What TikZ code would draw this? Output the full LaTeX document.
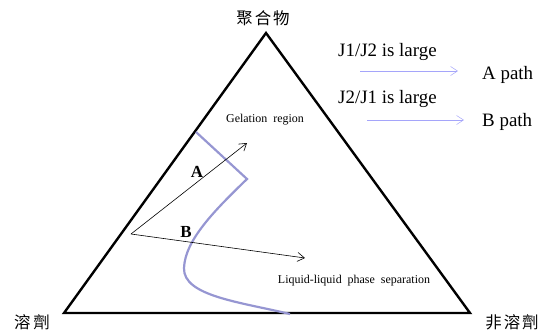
\documentclass[tikz,border=0pt]{standalone}
\usepackage{fontspec}
\setmainfont{Liberation Serif}
\newfontfamily\cjk{Noto Sans CJK TC}
\usetikzlibrary{arrows.meta}
\definecolor{curveblue}{RGB}{150,150,210}
\definecolor{arrowblue}{RGB}{165,165,250}
\tikzset{
  tri/.style={line width=2.4pt, line join=miter},
  blackarrow/.style={line width=0.6pt, -{Straight Barb[length=7pt,width=9pt]}},
  bluearrow/.style={draw=arrowblue, line width=0.5pt, -{Straight Barb[length=7pt,width=9pt]}},
  bigtext/.style={font=\fontsize{19}{22}\selectfont, inner sep=0pt},
  smalltext/.style={font=\fontsize{12}{14}\selectfont, inner sep=0pt},
  cjktext/.style={font=\cjk\fontsize{16.5}{18}\selectfont, inner sep=0pt},
  lettertext/.style={font=\bfseries\fontsize{17}{18}\selectfont, inner sep=0pt},
}
\begin{document}
\begin{tikzpicture}[x=1bp,y=-1bp]
\useasboundingbox (0,0) rectangle (544,332);
% triangle
\coordinate (top) at (266,33);
\coordinate (bl) at (64,313);
\coordinate (br) at (470,313);
\draw[tri] (top) -- (bl) -- (br) -- cycle;
% corner labels
\node[cjktext] (poly) at (263,18) {聚\hspace{2pt}合\hspace{2pt}物};
\node[cjktext] (solv) at (32,322) {溶\hspace{3pt}劑};
\node[cjktext] (nonsolv) at (512,322) {非\hspace{2pt}溶\hspace{2pt}劑};
% blue binodal curve
\coordinate (c0) at (196,132);
\coordinate (c1) at (247,179);
\coordinate (c2) at (184,268);
\coordinate (c3) at (290,314);
\draw[curveblue, line width=2.2pt] (c0) -- (c1)
  .. controls (215,210) and (185,240) .. (c2)
  .. controls (183,296) and (240,302) .. (c3);
% paths
\coordinate (o) at (131,234);
\coordinate (ea) at (247,143);
\coordinate (eb) at (305,258);
\draw[blackarrow] (o) -- (ea);
\draw[blackarrow] (o) -- (eb);
\node[lettertext] (la) at (197,172) {A};
\node[lettertext] (lb) at (186,232) {B};
% region labels
\node[smalltext] (gel) at (265,120) {Gelation\ \ region};
\node[smalltext] (llps) at (354,281) {Liquid-liquid\ \ phase\ \ separation};
% legend
\node[bigtext, anchor=west] (j1) at (338,52) {J1/J2 is large};
\node[bigtext, anchor=west] (ap) at (482,75) {A path};
\node[bigtext, anchor=west] (j2) at (338,99) {J2/J1 is large};
\node[bigtext, anchor=west] (bp) at (482,122) {B path};
\coordinate (a1s) at (360,71);
\coordinate (a1e) at (458,71);
\coordinate (a2s) at (367,120);
\coordinate (a2e) at (464,120);
\draw[bluearrow] (a1s) -- (a1e);
\draw[bluearrow] (a2s) -- (a2e);
\end{tikzpicture}
\end{document}
